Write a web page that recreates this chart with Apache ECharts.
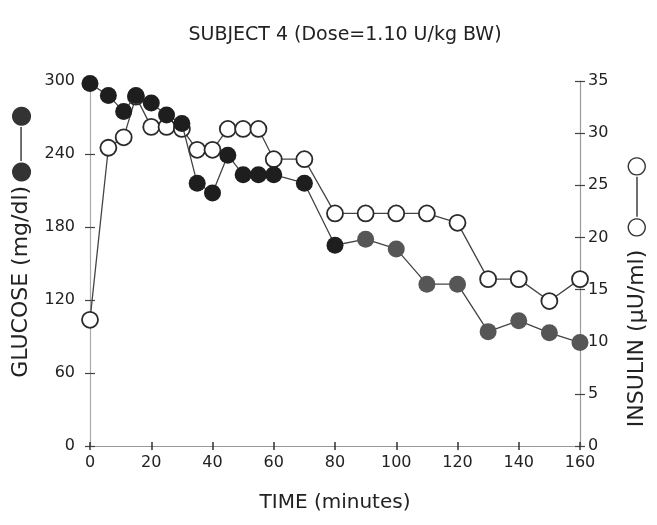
<!DOCTYPE html>
<html>
<head>
<meta charset="utf-8">
<script src="https://cdn.jsdelivr.net/npm/echarts@6/dist/echarts.min.js"></script>
<style>
html,body{margin:0;padding:0;background:#fff;}
#chart{width:657px;height:525px;}
</style>
</head>
<body>
<div id="chart"></div>
<script>
// ---- data ----
var times   = [0, 6, 11, 15, 20, 25, 30, 35, 40, 45, 50, 55, 60, 70, 80, 90, 100, 110, 120, 130, 140, 150, 160];
var glucose = [298, 288, 275, 288, 282, 272, 265, 216, 208, 239, 223, 223, 223, 216, 165, 170, 162, 133, 133, 94, 103, 93, 85];
var insulin = [12.1, 28.6, 29.6, 33.5, 30.6, 30.6, 30.4, 28.4, 28.4, 30.4, 30.4, 30.4, 27.5, 27.5, 22.3, 22.3, 22.3, 22.3, 21.4, 16, 16, 13.9, 16];
var xTicks = [0, 20, 40, 60, 80, 100, 120, 140, 160];
var glucoseTicks = [0, 60, 120, 180, 240, 300];
var insulinTicks = [0, 5, 10, 15, 20, 25, 30, 35];
var titleText = 'SUBJECT 4 (Dose=1.10 U/kg BW)';
var xName = 'TIME (minutes)';
var yLeftName = 'GLUCOSE (mg/dl)';
var yRightName = 'INSULIN (\u03bcU/ml)';

var FONT = 'DejaVu Sans';
var TXT = '#222';

function pairs(xs, ys){ return xs.map(function(x,i){ return [x, ys[i]]; }); }
function fmt(ticks){ return function(v){ return ticks.indexOf(v) >= 0 ? String(v) : ''; }; }

var chart = echarts.init(document.getElementById('chart'), null, {renderer:'canvas'});

var nameRich = {
  t:{fontFamily:FONT, fontSize:22, color:TXT},
  p1:{width:44, fontSize:4},
  p2:{width:56, fontSize:4},
  s1:{width:3, fontSize:4},
  s2:{width:12, fontSize:4},
  c:{fontFamily:FONT, fontSize:25, color:'#333'},
  o:{fontFamily:FONT, fontSize:24, color:'#333'},
  l1:{width:34, height:1.4, backgroundColor:'#333', fontSize:4},
  l2:{width:40, height:1.4, backgroundColor:'#333', fontSize:4}
};

var option = {
  backgroundColor:'#fff',
  animation:false,
  title:{
    text:titleText, left:340, top:21, textAlign:'center',
    textStyle:{fontFamily:FONT, fontWeight:'normal', fontSize:19, color:TXT}
  },
  grid:{left:90, right:74, top:81, bottom:79, containLabel:false},
  xAxis:[
    {type:'value', min:0, max:160, interval:20,
     name:xName, nameLocation:'middle', nameGap:47,
     nameTextStyle:{fontFamily:FONT, fontSize:20, color:TXT},
     splitLine:{show:false},
     axisLine:{show:true, onZero:false, lineStyle:{color:'#999', width:1.2}},
     axisTick:{show:true, length:4, lineStyle:{color:'#333', width:1.5}},
     axisLabel:{color:TXT, fontFamily:FONT, fontSize:16, margin:9, formatter:fmt(xTicks)}},
    {type:'value', min:0, max:160, interval:20, position:'bottom',
     splitLine:{show:false}, axisLine:{show:false, onZero:false}, axisLabel:{show:false},
     axisTick:{show:true, inside:true, length:4, lineStyle:{color:'#333', width:1.5}}}
  ],
  yAxis:[
    {type:'value', position:'left', min:0, max:300, interval:60,
     name:'{p1| }{t|' + yLeftName + '}{s1| }{c|\u25cf}{l1| }{c|\u25cf}',
     nameLocation:'middle', nameGap:55,
     nameTextStyle:{fontFamily:FONT, fontSize:22, color:TXT, rich:nameRich},
     splitLine:{show:false},
     axisLine:{show:true, onZero:false, lineStyle:{color:'#aaa', width:1.2}},
     axisTick:{show:true, length:5, lineStyle:{color:'#444', width:1.2}},
     axisLabel:{color:TXT, fontFamily:FONT, fontSize:16, margin:15, formatter:fmt(glucoseTicks)}},
    {type:'value', position:'right', min:0, max:35, interval:5,
     name:'{t|' + yRightName + '}{s2| }{o|\u25cb}{l2| }{o|\u25cb}{p2| }',
     nameLocation:'middle', nameGap:45,
     nameTextStyle:{fontFamily:FONT, fontSize:22, color:TXT, rich:nameRich},
     splitLine:{show:false},
     axisLine:{show:true, onZero:false, lineStyle:{color:'#999', width:1.2}},
     axisTick:{show:true, length:5, lineStyle:{color:'#444', width:1.2}},
     axisLabel:{color:TXT, fontFamily:FONT, fontSize:16, margin:8, formatter:fmt(insulinTicks)}},
    {type:'value', position:'left', min:0, max:300, interval:60,
     splitLine:{show:false}, axisLine:{show:false, onZero:false}, axisLabel:{show:false},
     axisTick:{show:true, inside:true, length:5, lineStyle:{color:'#444', width:1.2}}},
    {type:'value', position:'right', min:0, max:35, interval:5,
     splitLine:{show:false}, axisLine:{show:false, onZero:false}, axisLabel:{show:false},
     axisTick:{show:true, inside:true, length:5, lineStyle:{color:'#444', width:1.2}}}
  ],
  series:[
    {name:'Insulin', type:'line', xAxisIndex:0, yAxisIndex:1,
     data:pairs(times, insulin),
     symbol:'circle', symbolSize:16, showAllSymbol:true,
     lineStyle:{color:'#444', width:1.3},
     itemStyle:{color:'#fff', borderColor:'#2a2a2a', borderWidth:1.8},
     z:3},
    {name:'Glucose', type:'line', xAxisIndex:0, yAxisIndex:0,
     data:pairs(times, glucose),
     symbol:'circle', symbolSize:17, showAllSymbol:true,
     lineStyle:{color:'#444', width:1.3},
     itemStyle:{
       color:function(p){ return p.dataIndex <= 14 ? '#1e1e1e' : '#565656'; },
       borderWidth:0},
     z:4}
  ]
};
chart.setOption(option);
</script>
</body>
</html>
